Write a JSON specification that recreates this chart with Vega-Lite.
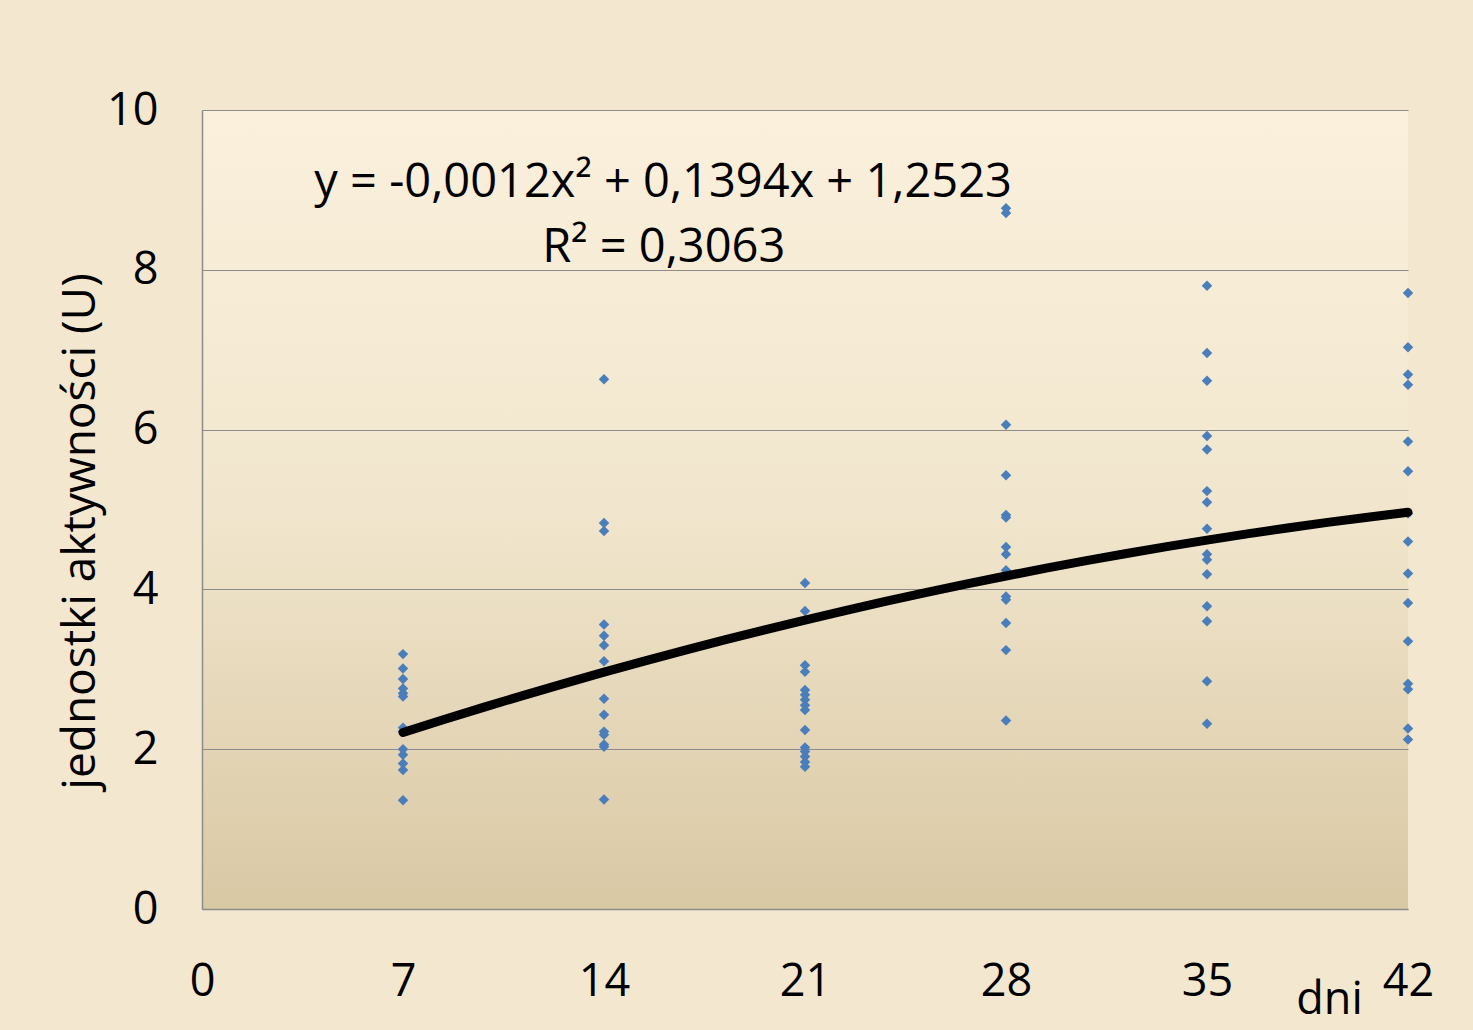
{
  "$schema": "https://vega.github.io/schema/vega-lite/v6.json",
  "width": 1206,
  "height": 799,
  "autosize": {"type": "none"},
  "padding": {"left": 202, "top": 110, "right": 65, "bottom": 121},
  "background": "#F3E8CF",
  "config": {
    "font": "Open Sans",
    "view": {
      "stroke": null,
      "fill": {
        "gradient": "linear",
        "x1": 0, "y1": 0, "x2": 0, "y2": 1,
        "stops": [
          {"offset": 0, "color": "#FBF0DC"},
          {"offset": 0.5, "color": "#F1E6CD"},
          {"offset": 1, "color": "#D9C8A4"}
        ]
      }
    }
  },
  "datasets": {
    "pts": [
      {"day": 7, "u": 3.19}, {"day": 7, "u": 3.01}, {"day": 7, "u": 2.88}, {"day": 7, "u": 2.76},
      {"day": 7, "u": 2.70}, {"day": 7, "u": 2.66}, {"day": 7, "u": 2.27}, {"day": 7, "u": 2.22},
      {"day": 7, "u": 2.00}, {"day": 7, "u": 1.93}, {"day": 7, "u": 1.82}, {"day": 7, "u": 1.74},
      {"day": 7, "u": 1.36},
      {"day": 14, "u": 6.63}, {"day": 14, "u": 4.83}, {"day": 14, "u": 4.73}, {"day": 14, "u": 3.56},
      {"day": 14, "u": 3.42}, {"day": 14, "u": 3.30}, {"day": 14, "u": 3.10}, {"day": 14, "u": 2.63},
      {"day": 14, "u": 2.43}, {"day": 14, "u": 2.22}, {"day": 14, "u": 2.18}, {"day": 14, "u": 2.06},
      {"day": 14, "u": 2.03}, {"day": 14, "u": 1.37},
      {"day": 21, "u": 4.08}, {"day": 21, "u": 3.73}, {"day": 21, "u": 3.05}, {"day": 21, "u": 2.97},
      {"day": 21, "u": 2.74}, {"day": 21, "u": 2.68}, {"day": 21, "u": 2.62}, {"day": 21, "u": 2.55},
      {"day": 21, "u": 2.49}, {"day": 21, "u": 2.24}, {"day": 21, "u": 2.02}, {"day": 21, "u": 1.97},
      {"day": 21, "u": 1.91}, {"day": 21, "u": 1.84}, {"day": 21, "u": 1.78},
      {"day": 28, "u": 8.77}, {"day": 28, "u": 8.71}, {"day": 28, "u": 6.06}, {"day": 28, "u": 5.43},
      {"day": 28, "u": 4.93}, {"day": 28, "u": 4.90}, {"day": 28, "u": 4.53}, {"day": 28, "u": 4.44},
      {"day": 28, "u": 4.24}, {"day": 28, "u": 3.91}, {"day": 28, "u": 3.87}, {"day": 28, "u": 3.58},
      {"day": 28, "u": 3.24}, {"day": 28, "u": 2.36},
      {"day": 35, "u": 7.80}, {"day": 35, "u": 6.96}, {"day": 35, "u": 6.61}, {"day": 35, "u": 5.92},
      {"day": 35, "u": 5.75}, {"day": 35, "u": 5.23}, {"day": 35, "u": 5.09}, {"day": 35, "u": 4.76},
      {"day": 35, "u": 4.44}, {"day": 35, "u": 4.37}, {"day": 35, "u": 4.19}, {"day": 35, "u": 3.79},
      {"day": 35, "u": 3.60}, {"day": 35, "u": 2.85}, {"day": 35, "u": 2.32},
      {"day": 42, "u": 7.71}, {"day": 42, "u": 7.03}, {"day": 42, "u": 6.69}, {"day": 42, "u": 6.56},
      {"day": 42, "u": 5.85}, {"day": 42, "u": 5.48}, {"day": 42, "u": 4.95}, {"day": 42, "u": 4.60},
      {"day": 42, "u": 4.20}, {"day": 42, "u": 3.83}, {"day": 42, "u": 3.35}, {"day": 42, "u": 2.82},
      {"day": 42, "u": 2.75}, {"day": 42, "u": 2.26}, {"day": 42, "u": 2.12}
    ],
    "labels": [
      {"label": "y = -0,0012x² + 0,1394x + 1,2523", "lx": 16.06, "ly": 9.09},
      {"label": "R² = 0,3063", "lx": 16.08, "ly": 8.27}
    ]
  },
  "layer": [
    {
      "data": {"name": "pts"},
      "mark": {"type": "point", "shape": "diamond", "filled": true, "size": 110, "color": "#4A7EBB", "opacity": 1},
      "encoding": {
        "x": {
          "field": "day", "type": "quantitative",
          "scale": {"domain": [0, 42], "nice": false, "zero": true},
          "axis": {
            "values": [0, 7, 14, 21, 28, 35, 42],
            "format": "d",
            "title": "dni",
            "titleFontSize": 45, "titleFontWeight": "normal", "titleColor": "#000000",
            "titleX": 1127, "titleY": 104, "titleAlign": "center", "titleBaseline": "alphabetic",
            "labelFontSize": 45, "labelColor": "#000000", "labelPadding": 50,
            "labelFlush": false,
            "ticks": false, "grid": false,
            "domainColor": "#8C8C8C", "domainWidth": 1.5
          }
        },
        "y": {
          "field": "u", "type": "quantitative",
          "scale": {"domain": [0, 10], "nice": false},
          "axis": {
            "values": [0, 2, 4, 6, 8, 10],
            "format": "d",
            "title": "jednostki aktywności (U)",
            "titleFontSize": 46, "titleFontWeight": "normal", "titleColor": "#000000",
            "titlePadding": 2,
            "titleY": 421,
            "labelFontSize": 45, "labelColor": "#000000", "labelPadding": 44,
            "labelFlush": false,
            "ticks": false,
            "grid": true, "gridColor": "#8C8C8C", "gridWidth": 1.2,
            "domainColor": "#8C8C8C", "domainWidth": 1.5
          }
        }
      }
    },
    {
      "data": {"name": "pts"},
      "transform": [
        {"regression": "u", "on": "day", "method": "poly", "order": 2, "extent": [7, 42]}
      ],
      "mark": {"type": "line", "color": "#000000", "strokeWidth": 9, "strokeCap": "round"},
      "encoding": {
        "x": {"field": "day", "type": "quantitative"},
        "y": {"field": "u", "type": "quantitative"}
      }
    },
    {
      "data": {"name": "labels"},
      "mark": {"type": "text", "fontSize": 47, "color": "#000000", "align": "center", "baseline": "middle"},
      "encoding": {
        "x": {"field": "lx", "type": "quantitative"},
        "y": {"field": "ly", "type": "quantitative"},
        "text": {"field": "label"}
      }
    }
  ]
}
